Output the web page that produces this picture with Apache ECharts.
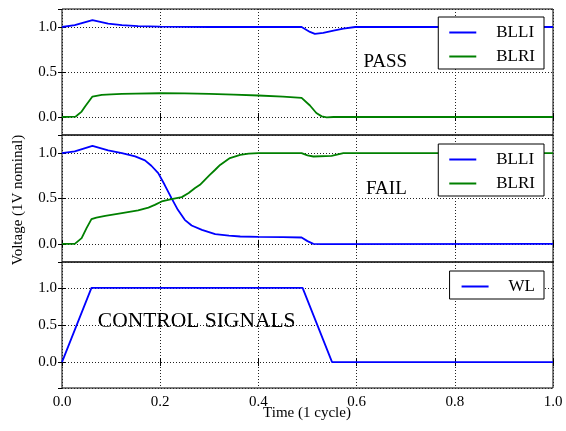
<!DOCTYPE html>
<html>
<head>
<meta charset="utf-8">
<script src="https://cdn.jsdelivr.net/npm/echarts@6/dist/echarts.min.js"></script>
<style>
  html, body { margin: 0; padding: 0; background: #fff; }
  #chart { width: 566px; height: 431px; }
</style>
</head>
<body>
<div id="chart"></div>
<script>
// Bit-line waveforms over one clock cycle (time in cycles, voltage in V)
const passBLLITime = [0, 0.026, 0.062, 0.094, 0.122, 0.155, 0.2, 0.3, 0.4, 0.488, 0.505, 0.515, 0.532, 0.553, 0.573, 0.597, 0.7, 1.0];
const passBLLI     = [1.0, 1.02, 1.077, 1.037, 1.02, 1.01, 1.005, 1.0, 1.0, 1.0, 0.945, 0.923, 0.934, 0.96, 0.982, 1.0, 1.0, 1.0];

const passBLRITime = [0, 0.028, 0.04, 0.047, 0.062, 0.081, 0.1, 0.122, 0.15, 0.2, 0.25, 0.3, 0.35, 0.4, 0.45, 0.488, 0.505, 0.518, 0.529, 0.539, 0.553, 1.0];
const passBLRI     = [0, 0.005, 0.06, 0.117, 0.227, 0.246, 0.252, 0.257, 0.26, 0.264, 0.262, 0.256, 0.249, 0.239, 0.226, 0.213, 0.128, 0.044, 0.007, -0.004, 0, 0];

const failBLLITime = [0, 0.026, 0.062, 0.094, 0.122, 0.149, 0.169, 0.182, 0.196, 0.209, 0.223, 0.236, 0.25, 0.264, 0.285, 0.312, 0.34, 0.363, 0.4, 0.45, 0.488, 0.5, 0.512, 0.53, 1.0];
const failBLLI     = [1.0, 1.02, 1.08, 1.03, 1.0, 0.964, 0.92, 0.861, 0.78, 0.651, 0.504, 0.375, 0.265, 0.202, 0.155, 0.107, 0.09, 0.081, 0.077, 0.074, 0.07, 0.03, 0.0, -0.003, 0];

const failBLRITime = [0, 0.026, 0.04, 0.05, 0.06, 0.07, 0.088, 0.122, 0.155, 0.176, 0.189, 0.203, 0.223, 0.244, 0.258, 0.271, 0.281, 0.291, 0.301, 0.312, 0.322, 0.342, 0.363, 0.38, 0.4, 0.488, 0.5, 0.512, 0.549, 0.573, 1.0];
const failBLRI     = [0, 0.0, 0.063, 0.173, 0.272, 0.29, 0.309, 0.339, 0.368, 0.40, 0.43, 0.467, 0.493, 0.515, 0.56, 0.615, 0.651, 0.706, 0.76, 0.817, 0.87, 0.946, 0.98, 0.995, 1.0, 1.0, 0.975, 0.963, 0.97, 1.0, 1.0];

// Word-line control signal
const wlTime = [0, 0.06, 0.49, 0.55, 1.0];
const wlV    = [0, 1, 1, 0, 0];

// Panel captions: [text, time, voltage, panel, font size]
const captions = [
  ['PASS', 0.614, 0.61, 0, 19],
  ['FAIL', 0.619, 0.607, 1, 19],
  ['CONTROL SIGNALS', 0.073, 0.555, 2, 21.5]
];

const xLabel = 'Time (1 cycle)';
const yLabel = 'Voltage (1V nominal)';

const SERIF = '"Liberation Serif", "DejaVu Serif", serif';
const BLUE = '#0000ff';
const GREEN = '#008000';

const panels = [
  { top: 9,   height: 126, min: -0.2,  max: 1.2 },
  { top: 135, height: 127, min: -0.2,  max: 1.2 },
  { top: 262, height: 126, min: -0.35, max: 1.35 }
];

const pairs = (t, v) => t.map((x, i) => [x, v[i]]);
const dotted = { color: '#222', width: 1, type: [1, 2] };
const tick = { show: true, inside: true, length: 4, lineStyle: { color: '#000', width: 1 } };

const grid = [], xAxis = [], yAxis = [];
panels.forEach((p, i) => {
  grid.push({ left: 62, width: 491, top: p.top, height: p.height, show: true,
              borderColor: '#000', borderWidth: 1, backgroundColor: 'transparent' });
  xAxis.push({
    type: 'value', gridIndex: i, min: 0, max: 1, interval: 0.2, position: 'bottom',
    axisLine: { show: false }, axisTick: tick,
    axisLabel: { show: i === 2, margin: 7, color: '#000', fontFamily: SERIF, fontSize: 15,
                 formatter: v => v.toFixed(1) },
    splitLine: { show: true, lineStyle: dotted }
  });
  xAxis.push({
    type: 'value', gridIndex: i, min: 0, max: 1, interval: 0.2, position: 'top',
    axisLine: { show: false }, axisTick: tick, axisLabel: { show: false }, splitLine: { show: false }
  });
  yAxis.push({
    type: 'value', gridIndex: i, min: p.min, max: p.max, splitNumber: 3, position: 'left',
    axisLine: { show: false }, axisTick: tick,
    axisLabel: { margin: 5, color: '#000', fontFamily: SERIF, fontSize: 15,
                 showMinLabel: false, showMaxLabel: false, formatter: v => v.toFixed(1) },
    splitLine: { show: true, lineStyle: dotted }
  });
  yAxis.push({
    type: 'value', gridIndex: i, min: p.min, max: p.max, splitNumber: 3, position: 'right',
    axisLine: { show: false }, axisTick: tick, axisLabel: { show: false }, splitLine: { show: false }
  });
});

function line(name, color, t, v, panel) {
  return {
    type: 'line', name, xAxisIndex: panel * 2, yAxisIndex: panel * 2,
    data: pairs(t, v), symbol: 'none', showSymbol: false, smooth: false,
    lineStyle: { color, width: 1.8 }, itemStyle: { color }, silent: true
  };
}

const series = [
  line('BLLI', BLUE, passBLLITime, passBLLI, 0),
  line('BLRI', GREEN, passBLRITime, passBLRI, 0),
  line('BLLI', BLUE, failBLLITime, failBLLI, 1),
  line('BLRI', GREEN, failBLRITime, failBLRI, 1),
  line('WL', BLUE, wlTime, wlV, 2)
];

const legendBase = {
  orient: 'vertical', right: 22, icon: 'rect', itemWidth: 27, itemHeight: 2, itemGap: 7,
  padding: [7, 9, 4, 11], borderColor: '#000', borderWidth: 1, borderRadius: 0,
  backgroundColor: '#fff', selectedMode: false, z: 10,
  textStyle: { fontFamily: SERIF, fontSize: 17, color: '#000', padding: [0, 0, 0, 15] }
};
const legend = [
  Object.assign({}, legendBase, { top: 17,  data: ['BLLI', 'BLRI'] }),
  Object.assign({}, legendBase, { top: 144, data: ['BLLI', 'BLRI'] }),
  Object.assign({}, legendBase, { top: 271, data: ['WL'], padding: [7, 9, 4, 12] })
];

const chart = echarts.init(document.getElementById('chart'), null, { renderer: 'canvas' });
chart.setOption({ animation: false, backgroundColor: '#fff', grid, xAxis, yAxis, legend, series });

// Captions are anchored in data coordinates of their panel
const graphic = captions.map(([text, t, v, panel, size]) => {
  const [px, py] = chart.convertToPixel({ gridIndex: panel }, [t, v]);
  return { type: 'text', x: px, y: py, z: 5,
           style: { text, fontFamily: SERIF, fontSize: size, fill: '#000', verticalAlign: 'middle' } };
});
graphic.push({ type: 'text', x: 307, y: 413, z: 5,
  style: { text: xLabel, fontFamily: SERIF, fontSize: 15, fill: '#000', align: 'center', verticalAlign: 'middle' } });
graphic.push({ type: 'text', x: 18, y: 200, rotation: Math.PI / 2, z: 5,
  style: { text: yLabel, fontFamily: SERIF, fontSize: 15, fill: '#000', align: 'center', verticalAlign: 'middle' } });
chart.setOption({ graphic });
</script>
</body>
</html>
